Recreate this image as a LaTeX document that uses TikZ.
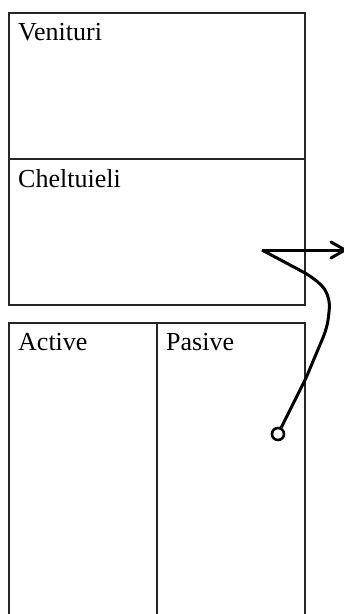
\documentclass[tikz,border=0pt]{standalone}
\usepackage{fontspec}
\setmainfont{Liberation Serif}
\usetikzlibrary{arrows.meta}
\tikzset{
  cell/.style={draw=black!85,line width=1.5pt,minimum width=#1,inner sep=0pt,outer sep=0pt},
  lbl/.style={font=\fontsize{26}{28}\selectfont,inner sep=0pt,anchor=base west,text=black},
  heavy/.style={draw=black,line width=3pt},
  pin/.style={circle,draw=black,line width=2.6pt,fill=white,minimum size=12pt,inner sep=0pt}
}
\begin{document}
\begin{tikzpicture}[x=1pt,y=-1pt]
\path[use as bounding box] (0,0) rectangle (344,614);
\clip (0,0) rectangle (344,614);
\fill[white] (0,0) rectangle (344,614);
\node[cell=296pt,minimum height=146pt,anchor=north west] (venituri) at (9,13) {};
\node[cell=296pt,minimum height=146pt,anchor=north west] (cheltuieli) at (9,159) {};
\node[cell=148pt,minimum height=320pt,anchor=north west] (active) at (9,323) {};
\node[cell=148pt,minimum height=320pt,anchor=north west] (pasive) at (157,323) {};
\node[lbl] (t1) at (18,40) {Venituri};
\node[lbl] (t2) at (18,187) {Cheltuieli};
\node[lbl] (t3) at (18,350) {Active};
\node[lbl] (t4) at (166,350) {Pasive};
\coordinate (start) at (262,250);
\coordinate (tip) at (345,250);
\node[pin] (end) at (278,434) {};
\draw[heavy] (start) -- (tip);
\draw[heavy,line cap=round,line join=round] (331,242) -- (tip) -- (331,258);
\draw[heavy] (start) -- (305,273) .. controls (315,279) and (322,285) .. (325,290)
   .. controls (329,297) and (330,303) .. (329,312)
   .. controls (328,325) and (325,333) .. (322,340) -- (306,378) -- (end);
\end{tikzpicture}
\end{document}
